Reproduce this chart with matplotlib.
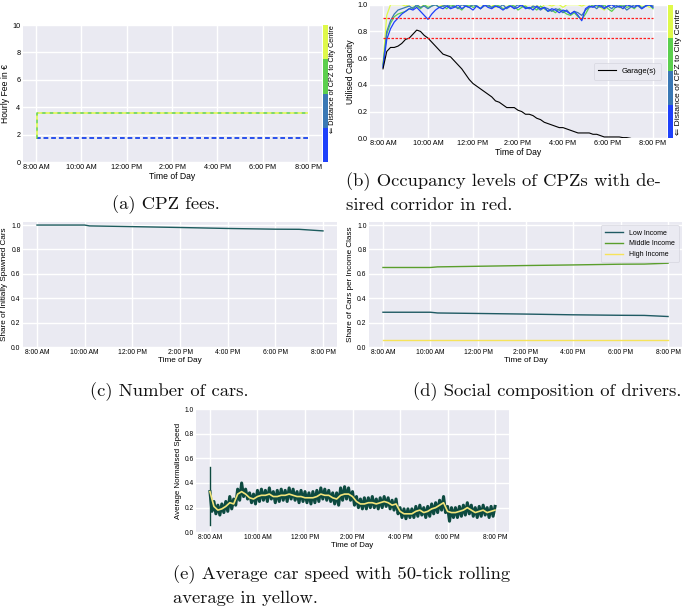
import numpy as np
import matplotlib
matplotlib.use('Agg')
import matplotlib.pyplot as plt
from matplotlib.colors import ListedColormap, BoundaryNorm
import matplotlib as mpl

plt.rcParams['font.family'] = ['Liberation Sans', 'DejaVu Sans']
plt.rcParams['axes.unicode_minus'] = False

# ---------------- data ----------------
tick_hours = [0, 2, 4, 6, 8, 10, 12]
tick_labels = ["8:00 AM", "10:00 AM", "12:00 PM", "2:00 PM", "4:00 PM", "6:00 PM", "8:00 PM"]

# (a) CPZ fees (hours after 8 AM)
fee_times = [0.0, 0.02, 12.0]
fee_cpz1 = [1.8, 1.8, 1.8]
fee_cpz2 = [1.8, 1.8, 1.8]
fee_cpz3 = [1.8, 3.6, 3.6]
fee_cpz4 = [1.8, 3.6, 3.6]

# (b) occupancy, 10-minute samples 8 AM - 8 PM
occ_cpz1 = [0.53,0.74,0.82,0.87,0.90,0.93,0.95,0.97,0.96,0.98,0.95,0.92,0.89,0.93,0.96,0.98,0.97,0.99,
            0.97,0.98,1.00,0.97,0.99,0.98,0.96,0.99,0.97,1.00,0.98,0.97,0.99,0.98,0.96,0.98,0.99,0.97,
            0.98,1.00,0.97,0.98,0.96,0.99,0.97,0.98,0.95,0.97,0.96,0.94,0.96,0.95,0.93,0.95,0.92,0.88,
            0.97,0.99,0.98,1.00,0.99,0.97,0.99,1.00,0.98,0.99,0.97,1.00,0.99,0.98,1.00,0.97,0.99,1.00,0.98]
occ_cpz2 = [0.54,0.80,0.88,0.93,0.96,0.97,0.98,0.99,0.97,1.00,0.98,0.99,0.97,0.99,1.00,0.98,0.99,1.00,
            0.98,0.99,0.97,1.00,0.99,0.98,1.00,0.99,0.97,0.99,1.00,0.98,0.99,0.98,1.00,0.97,0.99,0.98,
            1.00,0.99,0.98,0.97,0.99,0.98,0.96,0.98,0.97,0.95,0.97,0.96,0.94,0.96,0.93,0.95,0.94,0.92,
            0.96,0.98,0.99,0.97,1.00,0.98,0.99,0.97,1.00,0.98,0.99,0.96,0.98,1.00,0.99,0.97,0.99,1.00,0.99]
occ_cpz3 = [0.55,0.78,0.86,0.91,0.93,0.94,0.95,0.97,0.98,0.99,0.97,1.00,0.98,0.99,1.00,0.98,0.99,0.97,
            1.00,0.99,0.98,0.96,0.99,1.00,0.98,0.99,0.97,1.00,0.99,0.98,1.00,0.99,0.97,0.98,1.00,0.99,
            0.96,0.98,0.99,0.97,0.98,0.96,0.99,0.97,0.95,0.96,0.94,0.97,0.95,0.93,0.92,0.94,0.91,0.89,
            0.93,0.98,1.00,0.99,0.98,1.00,0.97,0.95,0.98,0.99,1.00,0.98,0.99,0.97,1.00,0.98,0.99,1.00,0.97]
occ_cpz4 = [0.56,0.92,1.00,1.00,1.00,1.00,0.99,1.00,1.00,1.00,0.98,1.00,1.00,1.00,1.00,1.00,0.99,1.00,
            1.00,1.00,1.00,1.00,1.00,0.99,1.00,1.00,1.00,1.00,1.00,1.00,0.98,1.00,1.00,1.00,1.00,1.00,
            1.00,0.99,1.00,1.00,1.00,1.00,0.97,1.00,1.00,0.99,1.00,1.00,0.98,1.00,1.00,1.00,1.00,0.99,
            1.00,1.00,1.00,1.00,0.98,0.96,0.99,1.00,1.00,0.98,0.97,1.00,1.00,1.00,0.99,1.00,1.00,0.98,0.99]
# garage occupancy, 10-minute samples 8 AM - 7 PM
occ_garage = [0.52,0.65,0.68,0.68,0.69,0.71,0.74,0.75,0.78,0.81,0.80,0.77,0.75,0.72,0.69,0.66,0.63,0.62,
              0.61,0.58,0.55,0.52,0.48,0.44,0.41,0.39,0.37,0.35,0.33,0.31,0.28,0.27,0.25,0.23,0.23,0.23,
              0.21,0.20,0.18,0.18,0.17,0.15,0.14,0.12,0.11,0.10,0.09,0.08,0.08,0.07,0.06,0.05,0.04,0.04,
              0.04,0.04,0.03,0.03,0.02,0.01,0.01,0.01,0.01,0.01,0.005,0.005,0.0]
corridor_levels = [0.75, 0.9]

# (c) number of cars
cars_times = [0, 2, 2.2, 4, 6, 8, 10, 11, 12]
cars_share = [1.0, 1.0, 0.993, 0.987, 0.98, 0.972, 0.966, 0.965, 0.952]

# (d) social composition
income_times = [0, 2, 2.3, 4, 6, 8, 10, 11, 12]
income_low = [0.285, 0.285, 0.279, 0.275, 0.270, 0.264, 0.260, 0.259, 0.250]
income_mid = [0.652, 0.652, 0.657, 0.662, 0.668, 0.673, 0.679, 0.680, 0.687]
income_high = [0.058, 0.058, 0.058, 0.058, 0.058, 0.058, 0.058, 0.058, 0.058]

# (e) speed: raw (5-minute) and rolling mean (10-minute)
speed_spike = [0.06, 0.53]
speed_raw = [0.33,0.17,0.25,0.15,0.22,0.14,0.23,0.16,0.25,0.17,0.29,0.19,0.27,0.22,0.35,0.26,0.40,0.29,
             0.35,0.27,0.32,0.24,0.31,0.23,0.34,0.25,0.35,0.26,0.34,0.25,0.36,0.27,0.33,0.24,0.34,0.25,
             0.35,0.26,0.34,0.25,0.36,0.27,0.35,0.26,0.33,0.24,0.34,0.25,0.33,0.24,0.32,0.23,0.33,0.24,
             0.34,0.25,0.36,0.27,0.35,0.26,0.34,0.25,0.32,0.23,0.32,0.22,0.36,0.26,0.37,0.27,0.36,0.26,
             0.33,0.22,0.29,0.20,0.27,0.19,0.28,0.19,0.28,0.20,0.29,0.20,0.27,0.19,0.28,0.20,0.29,0.21,
             0.28,0.19,0.26,0.18,0.27,0.15,0.20,0.12,0.19,0.11,0.19,0.12,0.19,0.12,0.21,0.13,0.22,0.14,
             0.20,0.12,0.21,0.13,0.23,0.15,0.24,0.16,0.26,0.18,0.29,0.16,0.21,0.09,0.20,0.12,0.20,0.12,
             0.21,0.13,0.22,0.14,0.24,0.15,0.22,0.13,0.20,0.12,0.21,0.13,0.22,0.14,0.20,0.12,0.21,0.13,0.21]
speed_avg = [0.33,0.21,0.18,0.19,0.21,0.24,0.23,0.31,0.33,0.31,0.28,0.27,0.29,0.30,0.30,0.31,0.29,0.29,
             0.30,0.30,0.31,0.30,0.29,0.29,0.28,0.28,0.28,0.29,0.31,0.30,0.30,0.28,0.27,0.30,0.31,0.31,
             0.29,0.25,0.23,0.23,0.24,0.24,0.23,0.24,0.25,0.24,0.22,0.23,0.17,0.15,0.15,0.15,0.17,0.18,
             0.16,0.17,0.19,0.20,0.22,0.24,0.17,0.16,0.16,0.17,0.18,0.20,0.18,0.16,0.17,0.18,0.16,0.17,0.18]

cpz_colors = ['#1e40fb', '#3a78b5', '#5ccf4e', '#dff94a']
cbar_label = '\u21d0 Distance of CPZ to City Centre'

# ---------------- figure ----------------
W, H = 685, 607
fig = plt.figure(figsize=(W / 100, H / 100), dpi=100)
BG = '#EAEAF2'


def px_axes(l, t, r, b):
    return fig.add_axes([l / W, 1 - b / H, (r - l) / W, (b - t) / H])


def style(ax, tick_fs, label_fs, ylim, yticks, ylabel, yfmt):
    ax.set_facecolor(BG)
    for s in ax.spines.values():
        s.set_visible(False)
    ax.grid(True, color='white', lw=1.0)
    ax.set_axisbelow(True)
    ax.tick_params(length=0, labelsize=tick_fs, pad=1.5)
    ax.set_xticks(tick_hours)
    ax.set_xticklabels(tick_labels)
    ax.set_xlim(-0.6, 12.6)
    ax.set_ylim(*ylim)
    ax.set_yticks(yticks)
    ax.set_yticklabels([yfmt.format(v) for v in yticks])
    ax.set_xlabel('Time of Day', fontsize=label_fs, labelpad=0.5)
    ax.set_ylabel(ylabel, fontsize=label_fs, labelpad=2)


def colorbar(cax):
    cmap = ListedColormap(cpz_colors)
    norm = BoundaryNorm([0, 1, 2, 3, 4], 4)
    cb = fig.colorbar(mpl.cm.ScalarMappable(norm=norm, cmap=cmap), cax=cax)
    cb.outline.set_visible(False)
    cb.set_ticks([])
    cb.minorticks_off()
    cax.tick_params(which='both', length=0, labelsize=0)
    cax.set_xticks([])


frac_ticks = [0.0, 0.2, 0.4, 0.6, 0.8, 1.0]

# (a)
axa = px_axes(22.5, 25, 321.8, 162.3)
style(axa, 5.2, 6.2, (0, 10), [0, 2, 4, 6, 8, 10], 'Hourly Fee in \u20ac', '{:.0f}')
axa.plot(fee_times, fee_cpz2, color=cpz_colors[1], lw=1.1, ls=(0, (3, 2)), drawstyle='steps-post')
axa.plot(fee_times, fee_cpz1, color=cpz_colors[0], lw=1.1, ls=(0, (3, 2)), drawstyle='steps-post')
axa.plot(fee_times, fee_cpz3, color=cpz_colors[2], lw=1.1, ls=(0, (3, 2)), drawstyle='steps-post')
axa.plot(fee_times, fee_cpz4, color=cpz_colors[3], lw=1.1, ls=(2.5, (3, 2)), drawstyle='steps-post')
caxa = px_axes(322.7, 25, 327.7, 162.3)
colorbar(caxa)
fig.text(332.5 / W, 1 - 25 / H, cbar_label, rotation=90, ha='center', va='top', fontsize=5.3)

# (b)
axb = px_axes(369.5, 4.7, 666.5, 138.3)
style(axb, 5.2, 6.2, (0, 1), frac_ticks, 'Utilised Capacity', '{:.1f}')
t_occ = np.linspace(0, 12, len(occ_cpz1))
for vals, c in zip([occ_cpz4, occ_cpz3, occ_cpz2, occ_cpz1], cpz_colors[::-1]):
    axb.plot(t_occ, vals, color=c, lw=0.9)
t_gar = np.linspace(0, 11, len(occ_garage))
axb.plot(t_gar, occ_garage, color='black', lw=0.8, label='Garage(s)')
for lvl in corridor_levels:
    axb.plot([0, 12], [lvl, lvl], color='#ff1f1f', lw=0.9, ls=(0, (2, 1.2)))
leg = axb.legend(loc='center right', fontsize=5.5, frameon=True, facecolor=BG,
                 edgecolor='#d5d5de', handlelength=2.3, borderpad=0.6, bbox_to_anchor=(0.995, 0.5))
leg.get_frame().set_linewidth(0.6)
caxb = px_axes(667.7, 4.5, 672.7, 138.3)
colorbar(caxb)
fig.text(678 / W, 1 - 71.5 / H, cbar_label, rotation=90, ha='center', va='center', fontsize=6.1)

# (c)
axc = px_axes(22.7, 222, 337.3, 347)
style(axc, 4.9, 5.9, (0, 1.025), frac_ticks, 'Share of Initially Spawned Cars', '{:.1f}')
axc.plot(cars_times, cars_share, color='#1d5c5e', lw=1.0)

# (d)
axd = px_axes(368.7, 222, 682.3, 347)
style(axd, 4.9, 5.9, (0, 1.025), frac_ticks, 'Share of Cars per Income Class', '{:.1f}')
axd.plot(income_times, income_low, color='#1f5a63', lw=1.0, label='Low Income')
axd.plot(income_times, income_mid, color='#5a9e2c', lw=1.0, label='Middle Income')
axd.plot(income_times, income_high, color='#f6e35a', lw=1.0, label='High Income')
legd = axd.legend(loc='upper right', fontsize=5.0, frameon=True, facecolor=BG,
                  edgecolor='#d5d5de', handlelength=2.6, borderpad=0.6, labelspacing=0.55)
legd.get_frame().set_linewidth(0.6)

# (e)
axe = px_axes(195.7, 409, 509.3, 532.3)
style(axe, 4.8, 5.7, (0, 1), frac_ticks, 'Average Normalised Speed', '{:.1f}')
axe.plot([0, 0], speed_spike, color='#0d4a40', lw=1.0)
axe.plot(np.linspace(0, 12, len(speed_raw)), speed_raw, color='#0d4a40', lw=2.2)
axe.plot(np.linspace(0, 12, len(speed_avg)), speed_avg, color='#f1e37a', lw=1.2)

# captions
cap = dict(family='cmr10', fontsize=13.4, color='#111111')
fig.text(166 / W, 1 - 205 / H, '(a) CPZ fees.', ha='center', va='center', **cap)
fig.text(346 / W, 1 - 182 / H, '(b) Occupancy levels of CPZs with de-', ha='left', va='center', **cap)
fig.text(346 / W, 1 - 205 / H, 'sired corridor in red.', ha='left', va='center', **cap)
fig.text(169 / W, 1 - 392 / H, '(c) Number of cars.', ha='center', va='center', **cap)
fig.text(547 / W, 1 - 392 / H, '(d) Social composition of drivers.', ha='center', va='center', **cap)
fig.text(173 / W, 1 - 575 / H, '(e) Average car speed with 50-tick rolling', ha='left', va='center', **cap)
fig.text(173 / W, 1 - 598 / H, 'average in yellow.', ha='left', va='center', **cap)

fig.savefig('out.png', dpi=100, facecolor='white')
